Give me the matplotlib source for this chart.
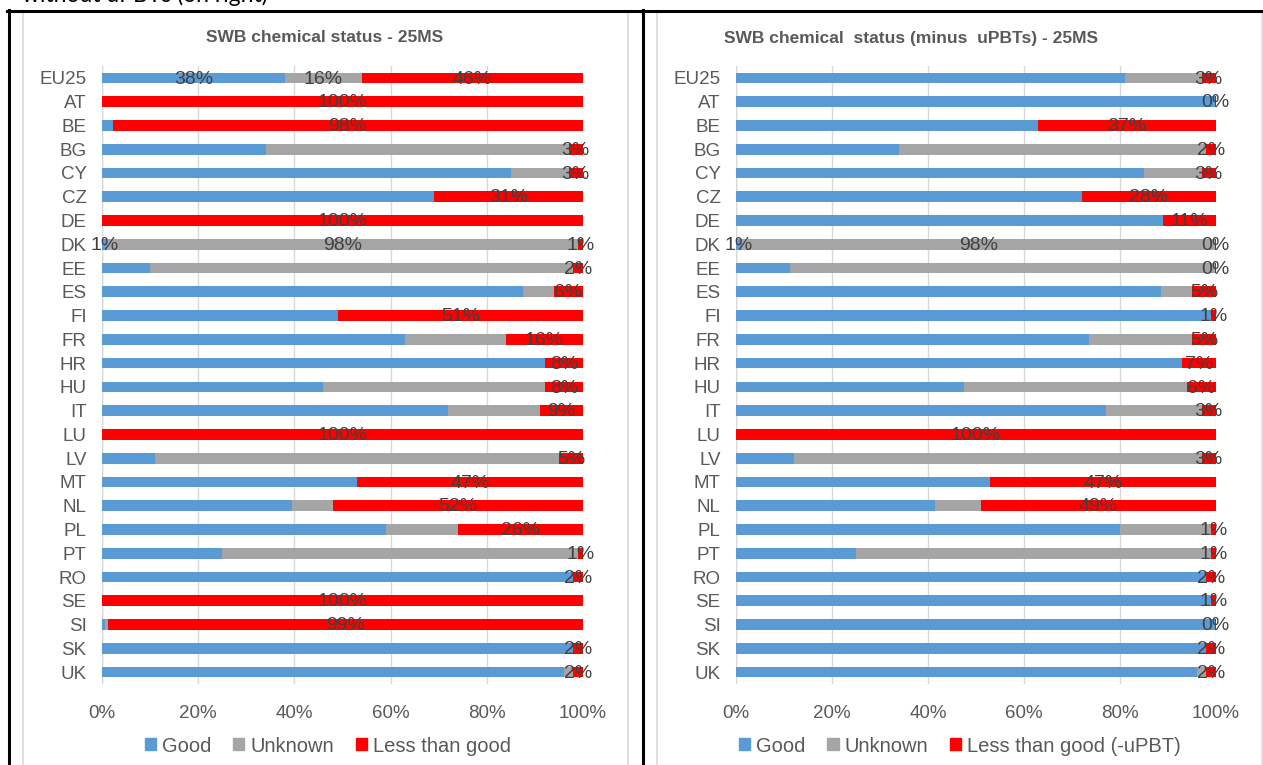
import matplotlib
matplotlib.use("Agg")
import matplotlib.pyplot as plt
from matplotlib.lines import Line2D
from matplotlib.patches import Rectangle, Patch
import numpy as np

# ---------------- data ----------------
countries = ["EU25", "AT", "BE", "BG", "CY", "CZ", "DE", "DK", "EE", "ES", "FI", "FR", "HR",
             "HU", "IT", "LU", "LV", "MT", "NL", "PL", "PT", "RO", "SE", "SI", "SK", "UK"]

# left chart: SWB chemical status
good_l    = [38, 0, 2.2, 34, 85, 69, 0, 1, 10, 87.5, 49, 63, 92, 46, 72, 0, 11, 53, 39.5, 59, 25, 98, 0, 0.7, 98, 96]
unknown_l = [16, 0, 0, 63, 12, 0, 0, 98, 88, 6.5, 0, 21, 0, 46, 19, 0, 84, 0, 8.5, 15, 74, 0, 0, 0.6, 0, 2]
less_l    = [46, 100, 97.8, 3, 3, 31, 100, 1, 2, 6, 51, 16, 8, 8, 9, 100, 5, 47, 52, 26, 1, 2, 100, 98.7, 2, 2]

# right chart: minus uPBTs
good_r    = [81, 99.8, 63, 34, 85, 72, 89, 1.2, 11.3, 88.5, 99, 73.5, 93, 47.5, 77, 0, 12, 53, 41.5, 80, 25, 98, 99, 99.8, 98, 96]
unknown_r = [16, 0, 0, 64, 12, 0, 0, 98.5, 88.5, 6.5, 0, 21.5, 0, 46.5, 20, 0, 85, 0, 9.5, 19, 74, 0, 0, 0, 0, 2]
less_r    = [3, 0.2, 37, 2, 3, 28, 11, 0.3, 0.2, 5, 1, 5, 7, 6, 3, 100, 3, 47, 49, 1, 1, 2, 1, 0.2, 2, 2]

# rows where every segment gets a label
all_labels_l = ["EU25", "DK"]
all_labels_r = ["DK"]

blue = "#5B9BD5"
grey = "#A5A5A5"
red = "#FF0000"
txt = "#404040"
tick_col = "#595959"
grid_col = "#D9D9D9"

W, H = 1263, 765
fig = plt.figure(figsize=(W / 100, H / 100), dpi=100)
plt.rcParams['font.family'] = ['Liberation Sans', 'DejaVu Sans']


def fx(px):
    return px / W


def fy(py):
    return 1 - py / H


def panel(x0, x1, title, title_x, good, unknown, less, full, legend_names, legend_x):
    y_top, y_bot = 66, 684
    ax = fig.add_axes([fx(x0), fy(y_bot), fx(x1) - fx(x0), fy(y_top) - fy(y_bot)])
    y = np.arange(len(countries))
    g = np.array(good)
    u = np.array(unknown)
    l = np.array(less)
    h = 0.45
    ax.barh(y, g, h, color=blue, zorder=2)
    ax.barh(y, u, h, left=g, color=grey, zorder=2)
    ax.barh(y, l, h, left=g + u, color=red, zorder=2)
    for i, c in enumerate(countries):
        segs = [(g[i], 0), (u[i], g[i]), (l[i], g[i] + u[i])]
        if c not in full:
            segs = segs[2:]
        for val, left in segs:
            ax.text(left + val / 2, i + 0.05, "%d%%" % round(val), ha="center", va="center",
                    fontsize=14, color=txt, zorder=3)
    ax.set_xlim(0, 100)
    ax.set_ylim(len(countries) - 0.5, -0.5)
    ax.set_yticks(y)
    ax.set_yticklabels(countries)
    ax.set_xticks(np.arange(0, 101, 20))
    ax.set_xticklabels(["%d%%" % v for v in range(0, 101, 20)])
    ax.tick_params(length=0, labelsize=13.5, colors=tick_col)
    ax.tick_params(axis="x", pad=15)
    ax.tick_params(axis="y", pad=11)
    ax.grid(axis="x", color=grid_col, lw=1, zorder=0)
    for s in ax.spines.values():
        s.set_visible(False)
    ax.axvline(0, color=grid_col, lw=1, zorder=1)
    fig.text(fx(title_x), fy(38), title, ha="center", va="center", fontsize=12.5,
             fontweight="bold", color=tick_col)
    handles = [Patch(color=blue), Patch(color=grey), Patch(color=red)]
    fig.legend(handles, legend_names, loc="center", bbox_to_anchor=(fx(legend_x), fy(746)),
               ncol=3, frameon=False, fontsize=14.5, handlelength=0.55, handleheight=0.55,
               handletextpad=0.3, columnspacing=1.1, labelcolor=tick_col)
    return ax


panel(102, 583, "SWB chemical status - 25MS", 325, good_l, unknown_l, less_l,
      all_labels_l, ["Good", "Unknown", "Less than good"], 328)
panel(736, 1216, "SWB chemical  status (minus  uPBTs) - 25MS", 911, good_r, unknown_r, less_r,
      all_labels_r, ["Good", "Unknown", "Less than good (-uPBT)"], 960)

# chart frames (light grey) and table lines (black)
for x0, x1 in [(23, 628), (657, 1262)]:
    fig.add_artist(Rectangle((fx(x0), fy(H + 5)), fx(x1) - fx(x0), fy(12) - fy(H + 5),
                             fill=False, ec=grid_col, lw=1.2, transform=fig.transFigure))
fig.add_artist(Line2D([fx(7), 1], [fy(10.5), fy(10.5)], color="black", lw=2.2))
for xp in [8.5, 642.5]:
    fig.add_artist(Line2D([fx(xp), fx(xp)], [fy(10), 0], color="black", lw=2.2))

# caption of the page above, cut by the crop
fig.text(fx(22), fy(2.5), "without uPBTs (on right)", ha="left", va="baseline",
         fontsize=16.5, family=["Lato", "DejaVu Sans"], color="black")

fig.savefig("out.png", dpi=100)
